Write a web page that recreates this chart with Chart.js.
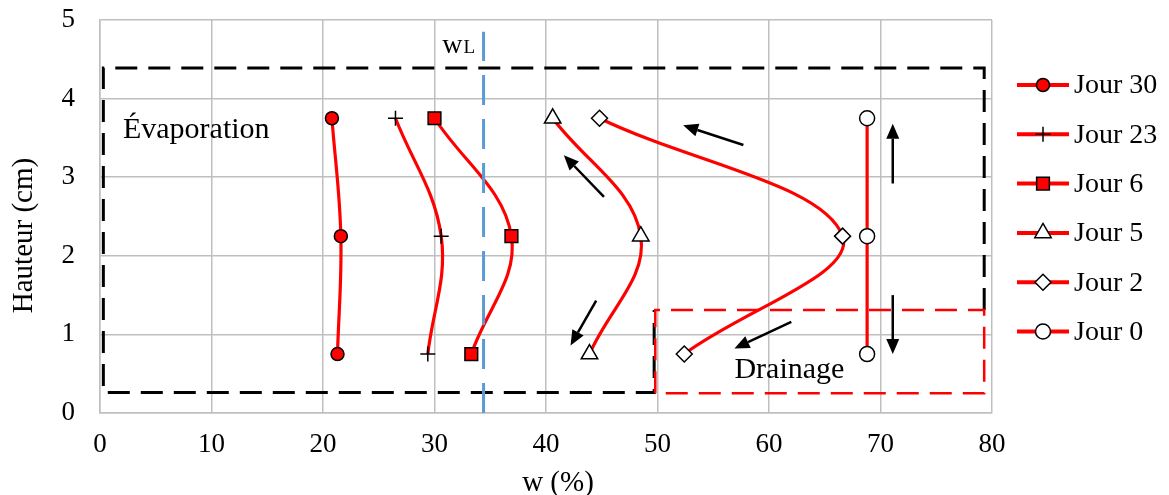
<!DOCTYPE html>
<html>
<head>
<meta charset="utf-8">
<script src="https://cdn.jsdelivr.net/npm/chart.js@4.4.1/dist/chart.umd.min.js"></script>
<style>
  html, body { margin: 0; padding: 0; background: #fff; }
  #wrap { width: 1169px; height: 495px; }
</style>
</head>
<body>
<div id="wrap"><canvas id="chart" width="1169" height="495"></canvas></div>
<script>
// hauteur des points de mesure (cm)
const hauteurs = [3.75, 2.25, 0.75];

// teneur en eau w (%) pour chaque jour
const jour30 = [20.8, 21.6, 21.3];
const jour23 = [26.5, 30.6, 29.4];
const jour6 = [30.0, 36.9, 33.3];
const jour5 = [40.6, 48.5, 43.9];
const jour2 = [44.8, 66.6, 52.4];
const jour0 = [68.8, 68.8, 68.8];

const seriesNames = ['Jour 30', 'Jour 23', 'Jour 6', 'Jour 5', 'Jour 2', 'Jour 0'];
const seriesValues = [jour30, jour23, jour6, jour5, jour2, jour0];

const xTicks = [0, 10, 20, 30, 40, 50, 60, 70, 80];
const yTicks = [0, 1, 2, 3, 4, 5];

const xTitle = 'w (%)';
const yTitle = 'Hauteur (cm)';

// limite de liquidité
const wL = 34.4;
const wLTop = 4.85;

// zones (coordonnées en w / hauteur)
const evapZone = [[79.3, 1.31], [79.3, 4.39], [0.3, 4.39], [0.3, 0.26], [49.7, 0.26], [49.7, 1.31]];
const drainZone = [[49.8, 0.25], [49.8, 1.31], [79.3, 1.31], [79.3, 0.25]];

// flèches [x départ, y départ, x arrivée, y arrivée]
const arrows = [
    [57.7, 3.41, 52.3, 3.66],
    [71.1, 2.92, 71.1, 3.68],
    [45.2, 2.75, 41.6, 3.28],
    [44.5, 1.43, 42.2, 0.86],
    [62.0, 1.16, 56.9, 0.82],
    [71.1, 1.50, 71.1, 0.75]
];

const FONT = '"Liberation Serif", "Times New Roman", serif';

const markerStyles = [
    { pointStyle: 'circle', radius: 6.5, bg: '#FF0000' },
    { pointStyle: 'cross', radius: 7.5, bg: '#000000' },
    { pointStyle: 'rect', radius: 9, bg: '#FF0000' },
    { pointStyle: 'triangle', radius: 9.5, bg: '#FFFFFF' },
    { pointStyle: 'rectRot', radius: 8, bg: '#FFFFFF' },
    { pointStyle: 'circle', radius: 7.5, bg: '#FFFFFF' }
];

const datasets = seriesNames.map((name, i) => ({
    label: name,
    data: seriesValues[i].map((w, j) => ({ x: w, y: hauteurs[j] })),
    showLine: true,
    borderColor: '#FF0000',
    borderWidth: 3.2,
    tension: 0.38,
    pointStyle: markerStyles[i].pointStyle,
    pointRadius: markerStyles[i].radius,
    pointBackgroundColor: markerStyles[i].bg,
    pointBorderColor: '#000000',
    pointBorderWidth: 1.5
}));

function drawArrow(ctx, x1, y1, x2, y2) {
    const ang = Math.atan2(y2 - y1, x2 - x1);
    const len = 15, half = 6.5;
    const bx = x2 - Math.cos(ang) * len, by = y2 - Math.sin(ang) * len;
    ctx.beginPath();
    ctx.moveTo(x1, y1);
    ctx.lineTo(bx, by);
    ctx.stroke();
    ctx.beginPath();
    ctx.moveTo(x2, y2);
    ctx.lineTo(bx + Math.sin(ang) * half, by - Math.cos(ang) * half);
    ctx.lineTo(bx - Math.sin(ang) * half, by + Math.cos(ang) * half);
    ctx.closePath();
    ctx.fill();
}

const annotations = {
    id: 'annotations',
    afterDatasetsDraw(chart) {
        const ctx = chart.ctx;
        const xs = chart.scales.x, ys = chart.scales.y;
        const px = v => xs.getPixelForValue(v);
        const py = v => ys.getPixelForValue(v);

        ctx.save();
        // zone évaporation
        ctx.lineWidth = 3;
        ctx.strokeStyle = '#000';
        ctx.setLineDash([22, 11]);
        ctx.beginPath();
        evapZone.forEach(([a, b], i) => i ? ctx.lineTo(px(a), py(b)) : ctx.moveTo(px(a), py(b)));
        ctx.stroke();

        // zone drainage
        ctx.strokeStyle = '#FF0000';
        ctx.lineWidth = 2.5;
        ctx.beginPath();
        drainZone.forEach(([a, b], i) => i ? ctx.lineTo(px(a), py(b)) : ctx.moveTo(px(a), py(b)));
        ctx.closePath();
        ctx.stroke();

        // wL
        ctx.strokeStyle = '#5B9BD5';
        ctx.lineWidth = 3;
        ctx.setLineDash([30, 14]);
        ctx.beginPath();
        ctx.moveTo(px(wL), py(0));
        ctx.lineTo(px(wL), py(wLTop));
        ctx.stroke();
        ctx.setLineDash([]);

        // flèches
        ctx.strokeStyle = '#000';
        ctx.fillStyle = '#000';
        ctx.lineWidth = 2.5;
        arrows.forEach(a => drawArrow(ctx, px(a[0]), py(a[1]), px(a[2]), py(a[3])));

        // textes
        ctx.fillStyle = '#000';
        ctx.textBaseline = 'alphabetic';
        ctx.textAlign = 'left';
        ctx.font = '30px ' + FONT;
        ctx.fillText('Évaporation', px(2.06), py(3.50));
        ctx.fillText('Drainage', px(56.9), py(0.445));
        ctx.font = '28px ' + FONT;
        ctx.fillText('w', px(30.7), py(4.58));
        const ww = ctx.measureText('w').width;
        ctx.font = '19px ' + FONT;
        ctx.fillText('L', px(30.7) + ww + 1, py(4.58));
        ctx.restore();
    },
    afterDraw(chart) {
        const ctx = chart.ctx;
        const area = chart.chartArea;

        // titres des axes
        ctx.save();
        ctx.fillStyle = '#000';
        ctx.font = '29px ' + FONT;
        ctx.textAlign = 'center';
        ctx.textBaseline = 'alphabetic';
        ctx.fillText(xTitle, (area.left + area.right) / 2 + 12, 491);
        ctx.translate(32, (area.top + area.bottom) / 2 + 19);
        ctx.rotate(-Math.PI / 2);
        ctx.fillText(yTitle, 0, 0);
        ctx.restore();

        // légende à droite
        const x0 = area.right + 25;
        ctx.save();
        chart.data.datasets.forEach((ds, i) => {
            const yy = 85 + i * 49.3;
            ctx.setLineDash([]);
            ctx.strokeStyle = '#FF0000';
            ctx.lineWidth = 4;
            ctx.beginPath();
            ctx.moveTo(x0, yy);
            ctx.lineTo(x0 + 52, yy);
            ctx.stroke();
            ctx.fillStyle = ds.pointBackgroundColor;
            ctx.strokeStyle = '#000';
            ctx.lineWidth = 1.5;
            Chart.helpers.drawPoint(ctx, {
                pointStyle: ds.pointStyle,
                radius: ds.pointRadius,
                rotation: 0,
                borderWidth: 1.5
            }, x0 + 26, yy);
            ctx.fillStyle = '#000';
            ctx.font = '28px ' + FONT;
            ctx.textBaseline = 'middle';
            ctx.textAlign = 'left';
            ctx.fillText(ds.label, x0 + 57, yy + 1);
        });
        ctx.restore();
    }
};

new Chart(document.getElementById('chart'), {
    type: 'scatter',
    data: { datasets: datasets },
    options: {
        responsive: false,
        animation: false,
        layout: { padding: { top: 20, right: 177, left: 0, bottom: 0 } },
        plugins: {
            legend: { display: false },
            tooltip: { enabled: false }
        },
        scales: {
            x: {
                type: 'linear',
                min: 0,
                max: 80,
                afterBuildTicks: s => { s.ticks = xTicks.map(v => ({ value: v })); },
                afterFit: s => { s.height = 82; },
                ticks: { color: '#000', padding: 16, font: { family: FONT, size: 27 } },
                grid: { color: '#BFBFBF', lineWidth: 1.5, drawTicks: false },
                border: { color: '#BFBFBF', width: 1.5 }
            },
            y: {
                type: 'linear',
                min: 0,
                max: 5,
                afterBuildTicks: s => { s.ticks = yTicks.map(v => ({ value: v })); },
                afterFit: s => {
                    s.width = 100;
                    s.paddingTop = 0;
                    s.paddingBottom = 0;
                },
                ticks: { color: '#000', padding: 25, font: { family: FONT, size: 27 } },
                grid: { color: '#BFBFBF', lineWidth: 1.5, drawTicks: false },
                border: { color: '#BFBFBF', width: 1.5 }
            }
        }
    },
    plugins: [annotations]
});
</script>
</body>
</html>
